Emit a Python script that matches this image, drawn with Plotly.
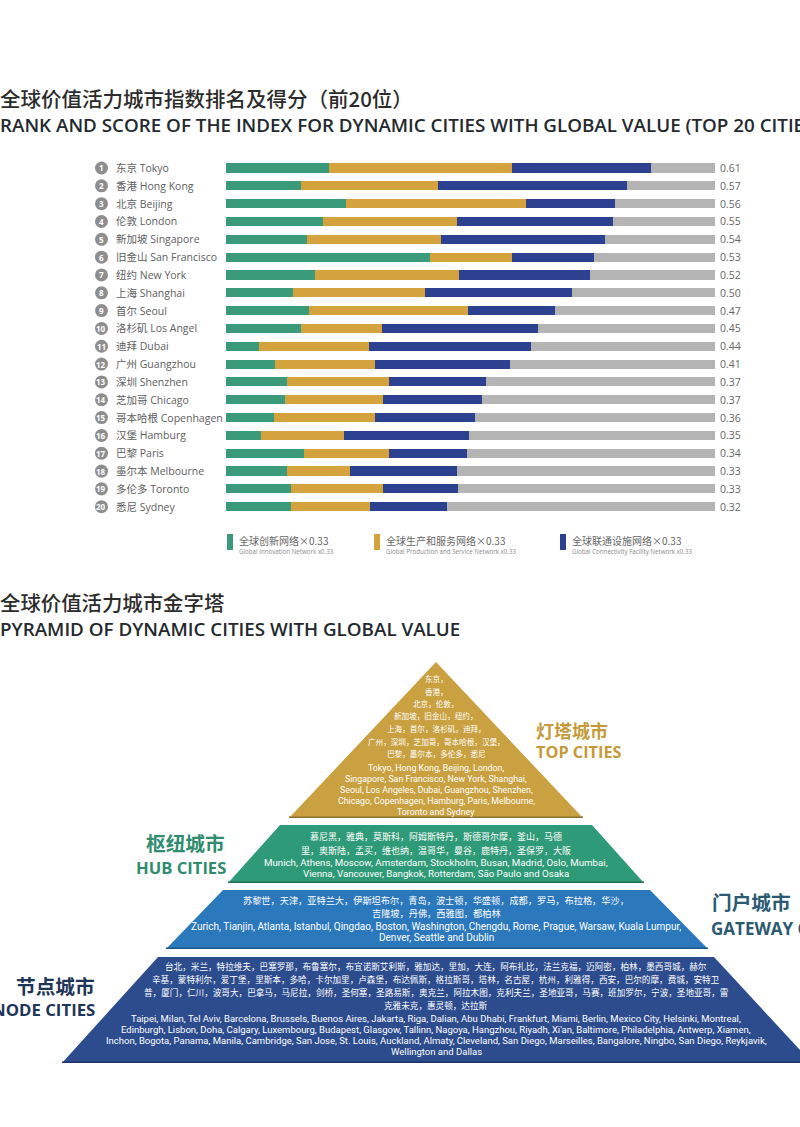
import plotly.graph_objects as go

W, H = 800, 1127

# ---------------- data ----------------
ranks = [str(i) for i in range(1, 21)]
cities = ["东京 Tokyo", "香港 Hong Kong", "北京 Beijing", "伦敦 London", "新加坡 Singapore",
          "旧金山 San Francisco", "纽约 New York", "上海 Shanghai", "首尔 Seoul", "洛杉矶 Los Angel",
          "迪拜 Dubai", "广州 Guangzhou", "深圳 Shenzhen", "芝加哥 Chicago", "哥本哈根 Copenhagen",
          "汉堡 Hamburg", "巴黎 Paris", "墨尔本 Melbourne", "多伦多 Toronto", "悉尼 Sydney"]
innovation = [0.147, 0.108, 0.172, 0.139, 0.116, 0.292, 0.128, 0.096, 0.119, 0.107,
              0.047, 0.070, 0.087, 0.085, 0.069, 0.050, 0.112, 0.088, 0.093, 0.093]
production = [0.262, 0.195, 0.257, 0.191, 0.192, 0.118, 0.206, 0.189, 0.228, 0.117,
              0.157, 0.144, 0.147, 0.140, 0.144, 0.119, 0.122, 0.090, 0.132, 0.113]
connectivity = [0.199, 0.271, 0.128, 0.224, 0.234, 0.117, 0.187, 0.210, 0.124, 0.222,
                0.232, 0.193, 0.138, 0.141, 0.144, 0.179, 0.111, 0.153, 0.107, 0.110]
scores = ["0.61", "0.57", "0.56", "0.55", "0.54", "0.53", "0.52", "0.50", "0.47", "0.45",
          "0.44", "0.41", "0.37", "0.37", "0.36", "0.35", "0.34", "0.33", "0.33", "0.32"]
SCALE_MAX = 0.7

legend_cn = ["全球创新网络×0.33", "全球生产和服务网络×0.33", "全球联通设施网络×0.33"]
legend_en = ["Global Innovation Network x0.33", "Global Production and Service Network x0.33",
             "Global Connectivity Facility Network x0.33"]

top_cn = ["东京，", "香港，", "北京，伦敦，", "新加坡，旧金山，纽约，", "上海，首尔，洛杉矶，迪拜，",
          "广州，深圳，芝加哥，哥本哈根，汉堡，", "巴黎，墨尔本，多伦多，悉尼"]
top_en = ["Tokyo, Hong Kong, Beijing, London,", "Singapore, San Francisco, New York, Shanghai,",
          "Seoul, Los Angeles, Dubai, Guangzhou, Shenzhen,", "Chicago, Copenhagen, Hamburg, Paris, Melbourne,",
          "Toronto and Sydney"]
hub_cn = ["慕尼黑，雅典，莫斯科，阿姆斯特丹，斯德哥尔摩，釜山，马德",
          "里，奥斯陆，孟买，维也纳，温哥华，曼谷，鹿特丹，圣保罗，大阪"]
hub_en = ["Munich, Athens, Moscow, Amsterdam, Stockholm, Busan, Madrid, Oslo, Mumbai,",
          "Vienna, Vancouver, Bangkok, Rotterdam, São Paulo and Osaka"]
gate_cn = ["苏黎世，天津，亚特兰大，伊斯坦布尔，青岛，波士顿，华盛顿，成都，罗马，布拉格，华沙，",
           "吉隆坡，丹佛，西雅图，都柏林"]
gate_en = ["Zurich, Tianjin, Atlanta, Istanbul, Qingdao, Boston, Washington, Chengdu, Rome, Prague, Warsaw, Kuala Lumpur,",
           "Denver, Seattle and Dublin"]
node_cn = ["台北，米兰，特拉维夫，巴塞罗那，布鲁塞尔，布宜诺斯艾利斯，雅加达，里加，大连，阿布扎比，法兰克福，迈阿密，柏林，墨西哥城，赫尔",
           "辛基，蒙特利尔，爱丁堡，里斯本，多哈，卡尔加里，卢森堡，布达佩斯，格拉斯哥，塔林，名古屋，杭州，利雅得，西安，巴尔的摩，费城，安特卫",
           "普，厦门，仁川，波哥大，巴拿马，马尼拉，剑桥，圣何塞，圣路易斯，奥克兰，阿拉木图，克利夫兰，圣地亚哥，马赛，班加罗尔，宁波，圣地亚哥，雷",
           "克雅未克，惠灵顿，达拉斯"]
node_en = ["Taipei, Milan, Tel Aviv, Barcelona, Brussels, Buenos Aires, Jakarta, Riga, Dalian, Abu Dhabi, Frankfurt, Miami, Berlin, Mexico City, Helsinki, Montreal,",
           "Edinburgh, Lisbon, Doha, Calgary, Luxembourg, Budapest, Glasgow, Tallinn, Nagoya, Hangzhou, Riyadh, Xi'an, Baltimore, Philadelphia, Antwerp, Xiamen,",
           "Inchon, Bogota, Panama, Manila, Cambridge, San Jose, St. Louis, Auckland, Almaty, Cleveland, San Diego, Marseilles, Bangalore, Ningbo, San Diego, Reykjavik,",
           "Wellington and Dallas"]

# ---------------- style ----------------
C_GREEN, C_GOLD, C_BLUE, C_GRAY = "#3b9a79", "#d5a33d", "#2c4290", "#b4b4b4"
P_GOLD, P_GREEN, P_GATE, P_NODE = "#c9a140", "#2f9a77", "#2c78bd", "#2d4c8e"
E_GOLD, E_GREEN, E_GATE, E_NODE = "#8f7130", "#226e56", "#1f568a", "#1f3566"
CJK = "Noto Sans CJK SC"
LAT = "Open Sans, Noto Sans CJK SC"
NARROW = "Roboto, Noto Sans CJK SC"

BAR_L, BAR_R = 226, 715
ROW_TOP, ROW_BOT = 168, 506.7
step = (ROW_BOT - ROW_TOP) / 19


def px(x):
    return x / W


def py(y):
    return 1 - y / H


remainder = [SCALE_MAX - (a + b + c) for a, b, c in zip(innovation, production, connectivity)]

fig = go.Figure()
for vals, col in [(innovation, C_GREEN), (production, C_GOLD), (connectivity, C_BLUE), (remainder, C_GRAY)]:
    fig.add_trace(go.Bar(y=cities, x=vals, orientation="h", marker=dict(color=col, line=dict(width=0)),
                         hoverinfo="skip", showlegend=False))

ann = []
shapes = []


def add(text, x, y, size, color, family=LAT, xanchor="center", weight=None, yref="paper", yv=None):
    ann.append(dict(text=text, x=px(x), y=(py(y) if yv is None else yv), xref="paper", yref=yref,
                    xanchor=xanchor, yanchor="middle", showarrow=False,
                    font=dict(size=size, color=color, family=family, weight=weight)))


# rank circles, names and scores, placed on the category axis
for i, (r, c, s) in enumerate(zip(ranks, cities, scores)):
    shapes.append(dict(type="circle", xref="paper", yref="y", x0=px(95.0), x1=px(108.0),
                       y0=i - 0.365, y1=i + 0.365, fillcolor="#8e8e8e", line=dict(width=0)))
    ann.append(dict(text=r, x=px(101.5), y=i, xref="paper", yref="y", xanchor="center", yanchor="middle",
                    showarrow=False, font=dict(size=8, color="white", family="Open Sans", weight=700)))
    add(c, 114, 0, 10.5, "#5e5e5e", xanchor="left", yref="y", yv=c)
    add(s, 718, 0, 10.5, "#666666", xanchor="left", yref="y", yv=c)

# titles
add("全球价值活力城市指数排名及得分（前20位）", -2, 98.5, 20.5, "#2b2b2b", CJK, "left", 500)
add("RANK AND SCORE OF THE INDEX FOR DYNAMIC CITIES WITH GLOBAL VALUE (TOP 20 CITIES)", -2, 124.5, 18.8,
    "#23292e", "Open Sans", "left", 600)
add("全球价值活力城市金字塔", -2, 602, 20.4, "#2b2b2b", CJK, "left", 500)
add("PYRAMID OF DYNAMIC CITIES WITH GLOBAL VALUE", -2, 629, 18.8, "#23292e", "Open Sans", "left", 600)

# legend
for (x0, col), cn, en in zip([(227, C_GREEN), (374, C_GOLD), (560, C_BLUE)], legend_cn, legend_en):
    shapes.append(dict(type="rect", xref="paper", yref="paper", x0=px(x0), x1=px(x0 + 6),
                       y0=py(550), y1=py(534), fillcolor=col, line=dict(width=0)))
    add(cn, x0 + 10, 540.5, 10, "#666666", CJK, "left")
    add(en, x0 + 10, 551.5, 6.2, "#8a8a8a", "Open Sans", "left")


def poly(points, color, edge):
    d = "M " + " L ".join(f"{px(x):.5f},{py(y):.5f}" for x, y in points) + " Z"
    shapes.append(dict(type="path", path=d, xref="paper", yref="paper", fillcolor=color,
                       line=dict(width=0), layer="below"))
    (xa, ya), (xb, yb) = points[-2], points[-1]
    shapes.append(dict(type="line", xref="paper", yref="paper", x0=px(xa), y0=py(ya - 0.8),
                       x1=px(xb), y1=py(yb - 0.8), line=dict(color=edge, width=1.6), layer="below"))


poly([(436, 662), (583, 818), (289, 818)], P_GOLD, E_GOLD)
poly([(280, 825), (592, 825), (644, 883), (228, 883)], P_GREEN, E_GREEN)
poly([(223, 890), (650, 890), (708, 949), (166, 949)], P_GATE, E_GATE)
poly([(158, 957), (714, 957), (812, 1063), (62, 1063)], P_NODE, E_NODE)

CX = 436
for t, y in zip(top_cn, [678, 691, 703, 715, 728, 741, 754]):
    add(t, CX, y, 7.6, "white", CJK)
for t, y in zip(top_en, [768, 779, 790, 801, 812]):
    add(t, CX, y, 8.8, "white", NARROW)
for t, y in zip(hub_cn, [836.5, 850]):
    add(t, CX, y, 9, "white", CJK)
for t, y in zip(hub_en, [862.5, 873.5]):
    add(t, CX, y, 9.7, "white", NARROW)
for t, y in zip(gate_cn, [900, 913]):
    add(t, CX, y, 9.2, "white", CJK)
for t, y in zip(gate_en, [926, 937.5]):
    add(t, CX, y, 10, "white", NARROW)
for t, y in zip(node_cn, [966, 979, 992, 1005]):
    add(t, CX, y, 8.6, "white", CJK)
for t, y in zip(node_en, [1018.5, 1029.5, 1040.5, 1051.5]):
    add(t, CX, y, 9.5, "white", NARROW)

# side labels
add("灯塔城市", 534, 730, 18, "#c49a3a", CJK, "left", 600)
add("TOP CITIES", 534, 752, 16.3, "#c49a3a", "Open Sans", "left", 700)
add("枢纽城市", 227, 842.5, 19.7, "#2f8c6e", CJK, "right", 600)
add("HUB CITIES", 228, 867, 16.6, "#2f8c6e", "Open Sans", "right", 700)
add("门户城市", 710, 901, 19.7, "#2b5a72", CJK, "left", 600)
add("GATEWAY CITIES", 709, 928, 17, "#2b5a72", "Open Sans", "left", 700)
add("节点城市", 97, 985.5, 19.7, "#1f3558", CJK, "right", 600)
add("NODE CITIES", 97, 1009.5, 16.8, "#1f3558", "Open Sans", "right", 700)

yd0 = py(ROW_BOT + step / 2)
yd1 = py(ROW_TOP - step / 2)
fig.update_layout(
    width=W, height=H, margin=dict(l=0, r=0, t=0, b=0),
    paper_bgcolor="white", plot_bgcolor="rgba(0,0,0,0)",
    barmode="stack", bargap=0.49, showlegend=False,
    xaxis=dict(domain=[px(BAR_L), px(BAR_R)], range=[0, SCALE_MAX], visible=False, fixedrange=True),
    yaxis=dict(domain=[yd0, yd1], categoryorder="array", categoryarray=cities,
               range=[len(cities) - 0.5, -0.5], visible=False, fixedrange=True),
    annotations=ann, shapes=shapes,
)
fig.write_html("out.html")
